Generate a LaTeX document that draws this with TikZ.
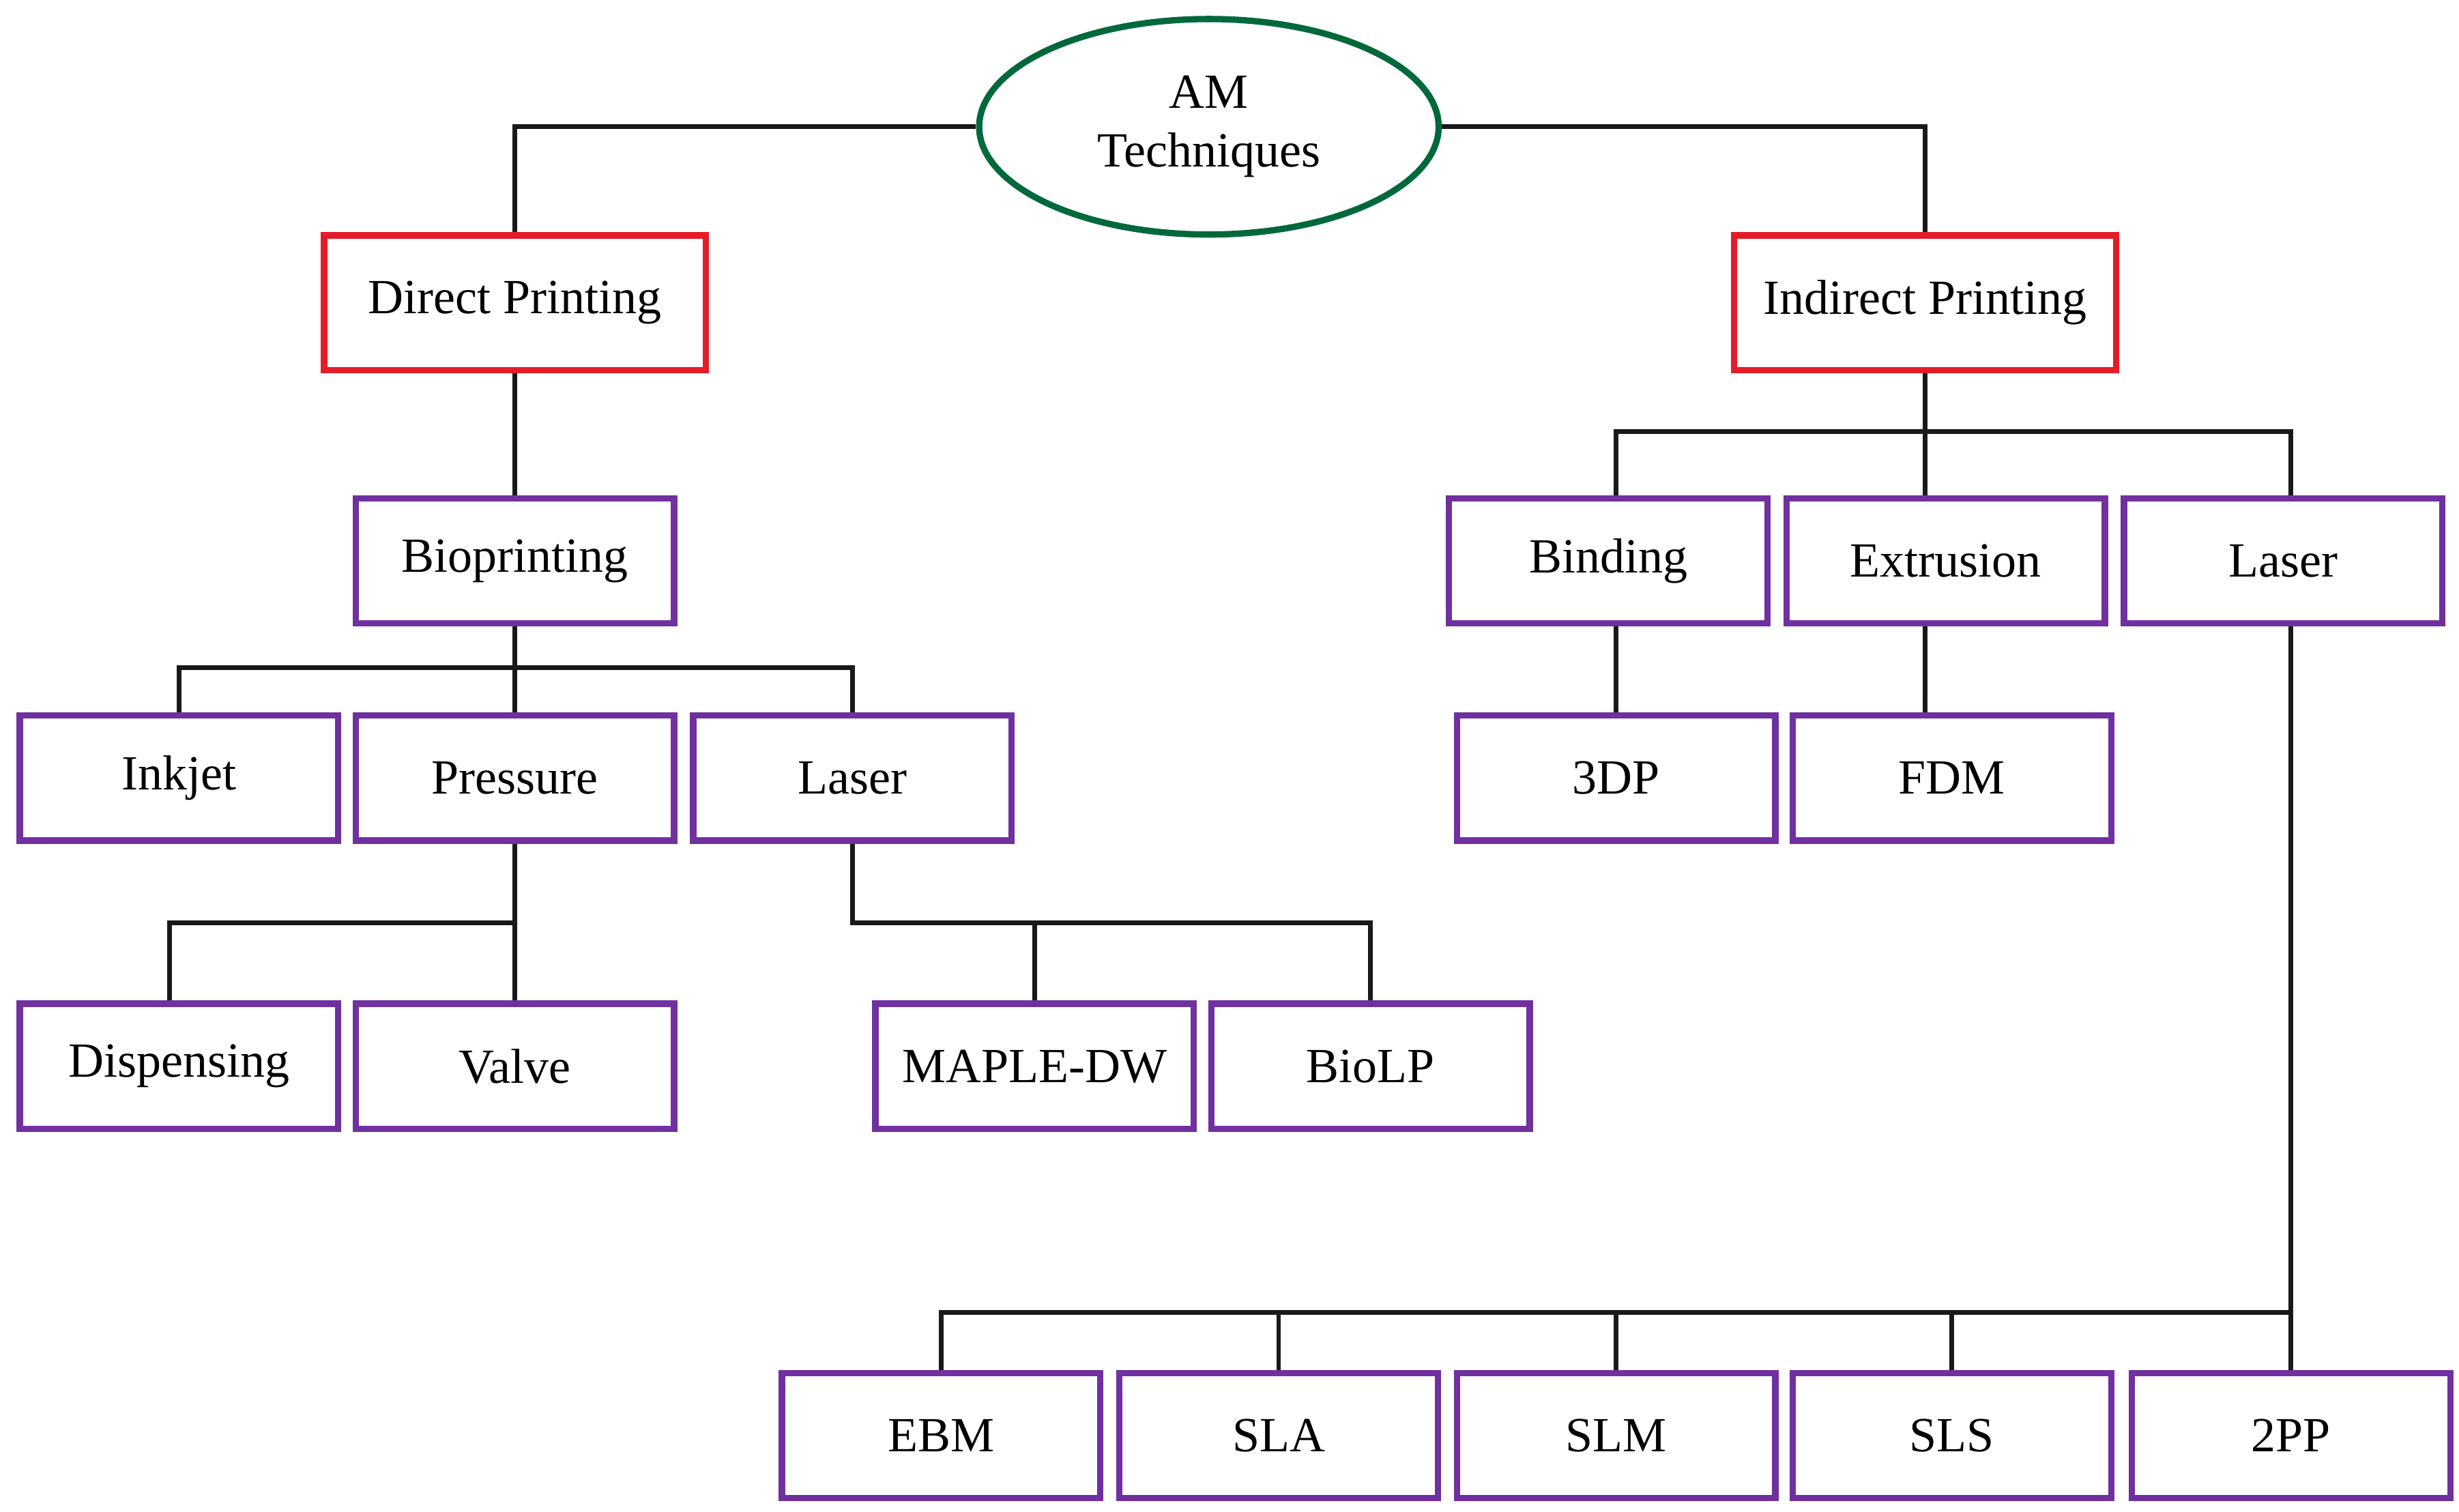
\documentclass[tikz,border=0pt]{standalone}
\usepackage{fontspec}
\setmainfont{Liberation Serif}
\usetikzlibrary{shapes.geometric}
\definecolor{pr}{RGB}{112,48,160}
\definecolor{rd}{RGB}{228,28,40}
\definecolor{gr}{RGB}{0,105,60}
\begin{document}
\begin{tikzpicture}[x=1pt,y=1pt,
  every node/.style={font=\fontsize{31}{37}\selectfont},
  box/.style={draw=pr,line width=4pt,minimum width=201pt,minimum height=79pt,inner sep=0pt},
  rbox/.style={draw=rd,line width=4pt,minimum width=241pt,minimum height=85pt,inner sep=0pt},
  ln/.style={line width=3pt,black!90}]
\useasboundingbox (0,0) rectangle (1552,-954);
\node[ellipse,draw=gr,line width=4pt,minimum width=290pt,minimum height=136pt,align=center,inner sep=0pt] (am) at (763,-80) {AM\\Techniques};
\node[rbox] (dp) at (325,-191) {Direct Printing};
\node[rbox] (ip) at (1215,-191) {Indirect Printing};
\node[box] (bio) at (325,-354) {Bioprinting};
\node[box] (ink) at (113,-491) {Inkjet};
\node[box] (pres) at (325,-491) {Pressure};
\node[box] (las1) at (538,-491) {Laser};
\node[box] (disp) at (113,-673) {Dispensing};
\node[box] (valve) at (325,-673) {Valve};
\node[box] (maple) at (653,-673) {MAPLE-DW};
\node[box] (biolp) at (865,-673) {BioLP};
\node[box] (bind) at (1015,-354) {Binding};
\node[box] (extr) at (1228,-354) {Extrusion};
\node[box] (las2) at (1441,-354) {Laser};
\node[box] (tdp) at (1020,-491) {3DP};
\node[box] (fdm) at (1232,-491) {FDM};
\node[box] (ebm) at (594,-906) {EBM};
\node[box] (sla) at (807,-906) {SLA};
\node[box] (slm) at (1020,-906) {SLM};
\node[box] (sls) at (1232,-906) {SLS};
\node[box] (tpp) at (1446,-906) {2PP};
\draw[ln] (am.west) -| (dp.north);
\draw[ln] (am.east) -| (ip.north);
\draw[ln] (dp.south) -- (bio.north);
\draw[ln] (bio.south) -- (pres.north);
\draw[ln] (ink.north) -- ++(0,28) -| (las1.north);
\draw[ln] (pres.south) -- ++(0,-50) coordinate (c1) -- (valve.north);
\draw[ln] (c1) -| ([xshift=-6pt]disp.north);
\draw[ln] (las1.south) -- ++(0,-50) -| (biolp.north);
\draw[ln] (las1.south) ++(0,-50) -| (maple.north);
\draw[ln] (ip.south) -- (ip.south |- extr.north);
\draw[ln] ([xshift=5pt]bind.north) -- ++(0,40) -| ([xshift=5pt]las2.north);
\draw[ln] ([xshift=5pt]bind.south) -- (tdp.north);
\draw[ln] ([xshift=-13pt]extr.south) -- ([xshift=-17pt]fdm.north);
\draw[ln] ([xshift=5pt]las2.south) -- (tpp.north);
\draw[ln] (tpp.north) ++(0,36) -| (ebm.north);
\foreach \n in {sla,slm,sls} \draw[ln] (\n.north) -- ++(0,36);
\end{tikzpicture}
\end{document}
